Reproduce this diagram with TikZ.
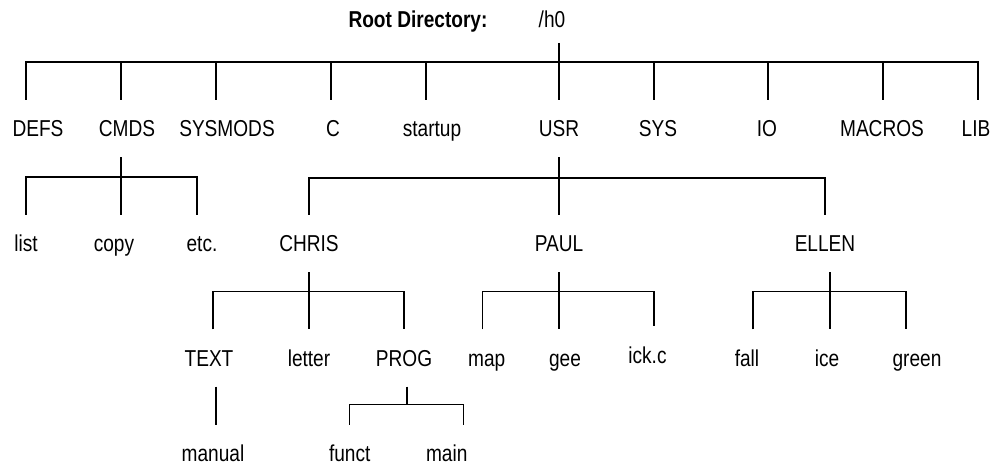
\documentclass[tikz,border=0pt]{standalone}
\usepackage{fontspec}
\setmainfont{Liberation Sans}[FakeStretch=0.83]
\tikzset{
    dir/.style={inner xsep=0pt, inner ysep=20.5pt, text height=16pt, text depth=0pt,
        anchor=base, font=\fontsize{23}{27}\selectfont},
    link/.style={line width=1.2pt}
}

\begin{document}
\begin{tikzpicture}[x=1pt, y=-1pt]
    \useasboundingbox (0,0) rectangle (1007,465);

    \node[dir, font=\fontsize{23}{27}\selectfont\bfseries] (root) at (418,28) {Root Directory:};
    \node[dir, inner ysep=14.7pt] (h0) at (552,28) {/h0};

    \node[dir] (DEFS) at (38,136.7) {DEFS};
    \node[dir] (CMDS) at (127,136.7) {CMDS};
    \node[dir] (SYSMODS) at (227,136.7) {SYSMODS};
    \node[dir] (C) at (333,136.7) {C};
    \node[dir] (startup) at (432,136.7) {startup};
    \node[dir] (USR) at (559,136.7) {USR};
    \node[dir] (SYS) at (658,136.7) {SYS};
    \node[dir] (IO) at (767,136.7) {IO};
    \node[dir] (MACROS) at (882,136.7) {MACROS};
    \node[dir] (LIB) at (976,136.7) {LIB};

    \node[dir] (list) at (26,251.7) {list};
    \node[dir] (copy) at (114,251.7) {copy};
    \node[dir] (etc) at (202,251.7) {etc.};
    \node[dir] (CHRIS) at (309,251.7) {CHRIS};
    \node[dir] (PAUL) at (559,251.7) {PAUL};
    \node[dir] (ELLEN) at (825,251.7) {ELLEN};

    \node[dir] (TEXT) at (209,366) {TEXT};
    \node[dir] (letter) at (309,366) {letter};
    \node[dir] (PROG) at (404,366) {PROG};
    \node[dir] (map) at (486.7,366) {map};
    \node[dir] (gee) at (565,366) {gee};
    \node[dir] (ickc) at (647.5,363) {ick.c};
    \node[dir] (fall) at (747,366) {fall};
    \node[dir] (ice) at (827,366) {ice};
    \node[dir] (green) at (917,366) {green};

    \node[dir] (manual) at (213,461.5) {manual};
    \node[dir] (funct) at (349.7,461.5) {funct};
    \node[dir] (main) at (446.7,461.5) {main};

    % root level
    \draw[link] ([xshift=7pt]h0.south) -- (USR.north);
    \draw[link] ([xshift=-12pt]DEFS.north) -- ++(0,-38) -| ([xshift=2pt]LIB.north);
    \draw[link] ([xshift=-6pt]CMDS.north) -- ++(0,-38);
    \draw[link] ([xshift=-11pt]SYSMODS.north) -- ++(0,-38);
    \draw[link] ([xshift=-2pt]C.north) -- ++(0,-38);
    \draw[link] ([xshift=-6pt]startup.north) -- ++(0,-38);
    \draw[link] ([xshift=-4pt]SYS.north) -- ++(0,-38);
    \draw[link] ([xshift=1pt]IO.north) -- ++(0,-38);
    \draw[link] ([xshift=1pt]MACROS.north) -- ++(0,-38);

    % CMDS
    \draw[link] ([xshift=-6pt]CMDS.south) -- ([xshift=7pt]copy.north);
    \draw[link] (list.north) -- ++(0,-38) -| ([xshift=-5pt]etc.north);

    % USR
    \draw[link] (USR.south) -- (PAUL.north);
    \draw[link] (CHRIS.north) -- ++(0,-37) -| (ELLEN.north);

    % CHRIS
    \draw[link] (CHRIS.south) -- (letter.north);
    \draw[link] ([xshift=4pt]TEXT.north) -- ++(0,-38) -| (PROG.north);
    \draw[link] ([xshift=7pt]TEXT.south) -- ([xshift=3pt]manual.north);
    \draw[link] ([xshift=3pt]PROG.south) -- ++(0,18);
    \draw[link] (funct.north) -- ++(0,-20.5) -| ([xshift=16.6pt]main.north);

    % PAUL
    \draw[link] (PAUL.south) -- ([xshift=-6pt]gee.north);
    \draw[link] ([xshift=-4pt]map.north) -- ++(0,-38) -| ([xshift=6.5pt]ickc.north);

    % ELLEN
    \draw[link] ([xshift=5pt]ELLEN.south) -- ([xshift=3pt]ice.north);
    \draw[link] ([xshift=6pt]fall.north) -- ++(0,-38) -| ([xshift=-11pt]green.north);
\end{tikzpicture}
\end{document}
